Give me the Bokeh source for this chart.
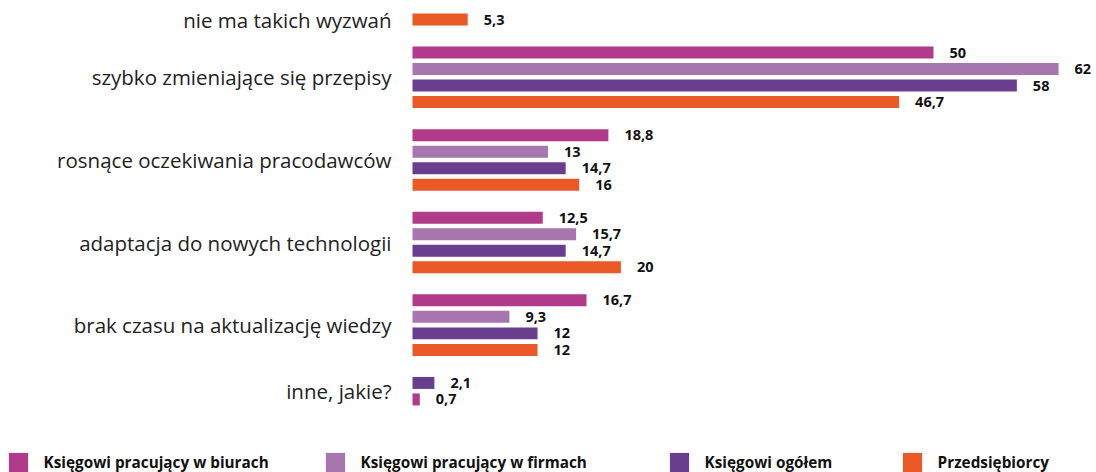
from bokeh.plotting import figure
from bokeh.models import ColumnDataSource, Range1d, Legend, LegendItem, LabelSet
from bokeh.core.properties import value
from bokeh.embed import file_html
from bokeh.resources import INLINE

categories = [
    "nie ma takich wyzwań",
    "szybko zmieniające się przepisy",
    "rosnące oczekiwania pracodawców",
    "adaptacja do nowych technologii",
    "brak czasu na aktualizację wiedzy",
    "inne, jakie?",
]
series_names = [
    "Księgowi pracujący w biurach",
    "Księgowi pracujący w firmach",
    "Księgowi ogółem",
    "Przedsiębiorcy",
]
biura = [None, 50, 18.8, 12.5, 16.7, 0.7]
firmy = [None, 62, 13, 15.7, 9.3, None]
ogolem = [None, 58, 14.7, 14.7, 12, 2.1]
przeds = [5.3, 46.7, 16, 20, 12, None]
# order of bars (top to bottom) inside each category, by series index
bar_order = [[0, 1, 2, 3]] * 5 + [[2, 0, 1, 3]]

colors = ["#B23A8A", "#A876AF", "#6A3E8F", "#EB5A26"]
series_values = [biura, firmy, ogolem, przeds]

# slot layout: one slot per existing bar, one empty slot between groups
slots = [dict(y=[], v=[], lab=[]) for _ in series_names]
group_centers = []
slot = 0
for ci, cat in enumerate(categories):
    present = [si for si in bar_order[ci] if series_values[si][ci] is not None]
    first = slot
    for si in present:
        v = series_values[si][ci]
        slots[si]["y"].append(slot)
        slots[si]["v"].append(v)
        s = str(int(v)) if float(v).is_integer() else str(v).replace(".", ",")
        slots[si]["lab"].append(s)
        slot += 1
    group_centers.append((first + slot - 1) / 2)
    slot += 1

W, H = 1096, 472
pitch = 16.52
x0_px = 412   # pixel position of value 0
scale = 10.42  # px per unit
y0_px = 19     # pixel position of first slot centre
p = figure(width=W, height=H, output_backend="svg", toolbar_location=None,
           min_border_left=0, min_border_right=0, min_border_top=0, min_border_bottom=0)
p.x_range = Range1d(-x0_px / scale, (W - x0_px) / scale)
p.y_range = Range1d((H - y0_px) / pitch, -y0_px / pitch)

renderers = []
for si, name in enumerate(series_names):
    src = ColumnDataSource(slots[si])
    r = p.hbar(y="y", left=0, right="v", height=0.725, source=src,
               fill_color=colors[si], line_color=None)
    renderers.append(r)
    p.add_layout(LabelSet(x="v", y="y", text="lab", source=src, x_offset=16,
                          text_baseline="middle", text_font=value("Open Sans"),
                          text_font_style="bold", text_font_size="14.5px",
                          text_color="#111111"))

# category labels, right-aligned just left of the bars' origin
cat_src = ColumnDataSource(dict(y=group_centers, t=categories, x=[0] * len(categories)))
p.text(x="x", y="y", text="t", source=cat_src, x_offset=-21, text_align="right",
       text_baseline="middle", text_font=value("Open Sans"), text_font_size="20.5px",
       text_color="#222222")

p.xaxis.visible = False
p.yaxis.visible = False
p.xgrid.visible = False
p.ygrid.visible = False
p.outline_line_color = None

legend_x = [5.6, 322.6, 666.6, 899.6]
for si, name in enumerate(series_names):
    leg = Legend(items=[LegendItem(label=name, renderers=[renderers[si]])],
                 location=(legend_x[si], -2.4), orientation="horizontal",
                 padding=0, margin=0, border_line_color=None, background_fill_alpha=0,
                 glyph_width=24, glyph_height=24, label_height=24, label_standoff=14,
                 label_text_font="Open Sans", label_text_font_style="bold",
                 label_text_font_size="15.3px", label_text_color="#111111")
    p.add_layout(leg)

open("out.html", "w").write(file_html(p, INLINE))
